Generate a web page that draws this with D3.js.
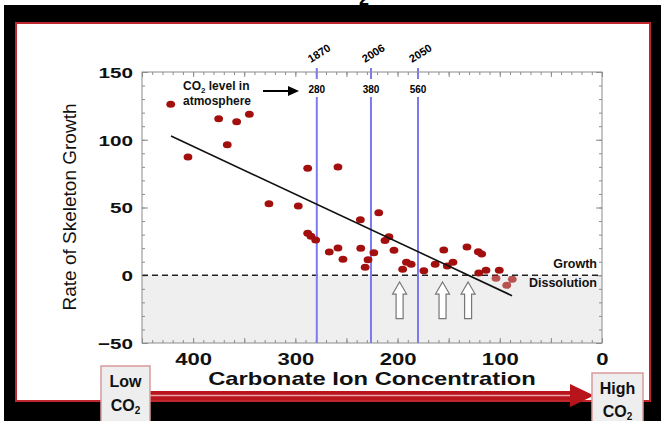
<!DOCTYPE html>
<html>
<head>
<meta charset="utf-8">
<script src="https://cdn.jsdelivr.net/npm/d3@7"></script>
<style>
  body { margin: 0; background: #fff; }
  svg { display: block; }
  text { font-family: "Liberation Sans", Arial, sans-serif; }
</style>
</head>
<body>
<div id="chart"></div>
<script>
// values
var carbonate = [421.9, 405.0, 375.0, 357.4, 345.0, 366.6, 325.8, 297.1, 287.9, 258.3,
                 287.9, 284.7, 280.1, 266.8, 258.3, 253.4, 236.4, 218.4, 236.0, 228.9,
                 231.7, 223.2, 212.3, 208.4, 203.5, 191.3, 186.7, 195.0, 174.3, 163.2,
                 154.8, 151.4, 145.8, 132.1, 121.0, 117.7, 120.6, 113.5, 100.5, 103.7,
                 93.2, 87.8];
var growth = [126.2, 87.3, 115.5, 113.3, 118.8, 96.3, 52.8, 51.1, 78.9, 79.9,
              31.0, 28.7, 26.0, 17.2, 20.1, 11.8, 40.9, 46.2, 19.9, 11.4,
              5.9, 16.6, 25.6, 28.5, 18.4, 9.6, 8.1, 4.4, 3.4, 8.2,
              18.6, 6.8, 9.6, 20.8, 17.4, 15.7, 1.7, 3.7, 3.7, -2.3,
              -7.4, -3.0];
var trendX = [421.6, 88.0];
var trendY = [102.8, -15.1];
var co2Carbonate = [279, 226, 180];
var co2Years = ["1870", "2006", "2050"];
var co2Ppm = ["280", "380", "560"];
var arrowCarbonate = [198, 156, 131];
var arrowTop = -5, arrowBottom = -32;
var xTicks = [400, 300, 200, 100, 0];
var yTicks = [-50, 0, 50, 100, 150];

var W = 664, H = 421;
var pL = 142, pR = 602, pT = 72, pB = 343;
var stretch = 1.38;   // the picture's text is wide

var svg = d3.select("#chart").append("svg").attr("width", W).attr("height", H);

// bottom of the slide title, cut off at the top edge
svg.append("text").attr("x", 364).attr("y", 5).attr("text-anchor", "middle")
  .attr("font-size", 18).attr("font-weight", "bold").attr("fill", "#000").text("2");

// slide frame
svg.append("rect").attr("x", 4).attr("y", 5).attr("width", 657).attr("height", 416).attr("fill", "#000");
svg.append("rect").attr("x", 16).attr("y", 23).attr("width", 634).attr("height", 378)
  .attr("fill", "#fff").attr("stroke", "#c0272d").attr("stroke-width", 2);

var x = d3.scaleLinear().domain([450, 0]).range([pL, pR]);
var y = d3.scaleLinear().domain([-50, 150]).range([pB, pT]);

// shaded dissolution zone
svg.append("rect").attr("x", pL).attr("y", y(0))
  .attr("width", pR - pL).attr("height", pB - y(0)).attr("fill", "#efefef");

// ticks on all four sides, pointing in
function ticks(axis, tr) {
  var g = svg.append("g").attr("transform", tr).call(axis);
  g.select(".domain").remove();
  g.selectAll("line").attr("stroke", "#8c8c8c");
  return g;
}
var xMinor = d3.range(0, 451, 10), yMinor = d3.range(-50, 151, 10);
ticks(d3.axisBottom(x).tickValues(xMinor).tickSize(-3).tickFormat(""), "translate(0," + pB + ")");
ticks(d3.axisTop(x).tickValues(xMinor).tickSize(-3).tickFormat(""), "translate(0," + pT + ")");
ticks(d3.axisBottom(x).tickValues(d3.range(0, 451, 50)).tickSize(-5).tickFormat(""), "translate(0," + pB + ")");
ticks(d3.axisTop(x).tickValues(d3.range(0, 451, 50)).tickSize(-5).tickFormat(""), "translate(0," + pT + ")");
ticks(d3.axisLeft(y).tickValues(yMinor).tickSize(-3).tickFormat(""), "translate(" + pL + ",0)");
ticks(d3.axisRight(y).tickValues(yMinor).tickSize(-3).tickFormat(""), "translate(" + pR + ",0)");
ticks(d3.axisLeft(y).tickValues(yTicks).tickSize(-6).tickFormat(""), "translate(" + pL + ",0)");
ticks(d3.axisRight(y).tickValues(yTicks).tickSize(-6).tickFormat(""), "translate(" + pR + ",0)");

// tick labels
var xl = svg.append("g").attr("transform", "translate(0," + pB + ")")
  .call(d3.axisBottom(x).tickValues(xTicks).tickSize(0).tickPadding(0));
xl.select(".domain").remove();
xl.selectAll("text").attr("y", 22).attr("dy", null)
  .attr("font-size", 16).attr("font-weight", "bold").attr("fill", "#111")
  .attr("font-family", "Liberation Sans, Arial, sans-serif")
  .attr("transform", "scale(" + stretch + ",1)");

var yl = svg.append("g").attr("transform", "translate(" + (pL - 9) + ",0)")
  .call(d3.axisLeft(y).tickValues(yTicks).tickSize(0).tickPadding(0));
yl.select(".domain").remove();
yl.selectAll("text").attr("x", 0).attr("dy", "0.36em")
  .attr("font-size", 15).attr("font-weight", "bold").attr("fill", "#111")
  .attr("font-family", "Liberation Sans, Arial, sans-serif")
  .attr("transform", "scale(" + stretch + ",1)");

// axis titles
svg.append("text").attr("transform", "translate(372,385) scale(1.36,1)")
  .attr("text-anchor", "middle").attr("font-size", 17.5).attr("font-weight", "bold")
  .attr("fill", "#111").text("Carbonate Ion Concentration");
svg.append("text").attr("transform", "translate(76,207) rotate(-90)")
  .attr("text-anchor", "middle").attr("font-size", 19).attr("fill", "#111")
  .text("Rate of Skeleton Growth");

// zero line
svg.append("line").attr("x1", pL).attr("x2", pR).attr("y1", y(0)).attr("y2", y(0))
  .attr("stroke", "#222").attr("stroke-width", 1.5).attr("stroke-dasharray", "6,4");

// CO2 level lines
var co2 = svg.selectAll(".co2").data(co2Carbonate).enter().append("g").attr("class", "co2");
co2.append("line").attr("x1", function(d) { return x(d); }).attr("x2", function(d) { return x(d); })
  .attr("y1", pT - 4).attr("y2", pB).attr("stroke", "#7b7bf0").attr("stroke-width", 2);
co2.append("rect").attr("x", function(d) { return x(d) - 11; }).attr("y", pT + 7)
  .attr("width", 22).attr("height", 18).attr("fill", "#fff");
co2.append("text").attr("x", function(d) { return x(d); }).attr("y", pT + 21)
  .attr("text-anchor", "middle").attr("font-size", 10).attr("font-weight", "bold")
  .text(function(d, i) { return co2Ppm[i]; });
co2.append("text")
  .attr("transform", function(d) { return "translate(" + (x(d) - 6) + "," + (pT - 9) + ") rotate(-32)"; })
  .attr("font-size", 11).attr("font-weight", "bold")
  .text(function(d, i) { return co2Years[i]; });

// annotation
var note = svg.append("text").attr("font-size", 12).attr("font-weight", "bold").attr("fill", "#111");
var l1 = note.append("tspan").attr("x", 183).attr("y", 90);
l1.append("tspan").text("CO");
l1.append("tspan").attr("font-size", 8).attr("dy", 2.5).text("2");
l1.append("tspan").attr("dy", -2.5).text(" level in");
note.append("tspan").attr("x", 183).attr("y", 105).text("atmosphere");
svg.append("line").attr("x1", 263).attr("x2", 290).attr("y1", 91).attr("y2", 91)
  .attr("stroke", "#000").attr("stroke-width", 2);
svg.append("path").attr("d", "M288,86L299,91L288,96Z").attr("fill", "#000");

// growth / dissolution labels
svg.append("text").attr("x", 597).attr("y", 268).attr("text-anchor", "end")
  .attr("font-size", 12.5).attr("font-weight", "bold").attr("fill", "#111").text("Growth");
svg.append("text").attr("x", 597).attr("y", 286.5).attr("text-anchor", "end")
  .attr("font-size", 12.5).attr("font-weight", "bold").attr("fill", "#111").text("Dissolution");

// hollow arrows
svg.selectAll(".up").data(arrowCarbonate).enter().append("path").attr("class", "up")
  .attr("d", function(d) {
    var cx = x(d), t = y(arrowTop), b = y(arrowBottom), h = t + 12;
    return "M" + cx + "," + t + "L" + (cx + 7) + "," + h + "L" + (cx + 3.5) + "," + h +
      "L" + (cx + 3.5) + "," + b + "L" + (cx - 3.5) + "," + b + "L" + (cx - 3.5) + "," + h +
      "L" + (cx - 7) + "," + h + "Z";
  })
  .attr("fill", "#fff").attr("stroke", "#777").attr("stroke-width", 1.2);

// points
svg.selectAll(".dot").data(carbonate).enter().append("ellipse").attr("class", "dot")
  .attr("cx", function(d) { return x(d); })
  .attr("cy", function(d, i) { return y(growth[i]); })
  .attr("rx", 4.4).attr("ry", 3.5)
  .attr("fill", "#a30f0d")
  .attr("opacity", function(d, i) { return growth[i] < 0 ? 0.7 : 1; });

// trend line
svg.append("line").attr("x1", x(trendX[0])).attr("y1", y(trendY[0]))
  .attr("x2", x(trendX[1])).attr("y2", y(trendY[1]))
  .attr("stroke", "#111").attr("stroke-width", 1.6);

// plot border
svg.append("rect").attr("x", pL).attr("y", pT).attr("width", pR - pL).attr("height", pB - pT)
  .attr("fill", "none").attr("stroke", "#8c8c8c").attr("stroke-width", 1);

// Low -> High CO2 arrow
svg.append("rect").attr("x", 150).attr("y", 391).attr("width", 425).attr("height", 9).attr("fill", "#b8141c");
svg.append("line").attr("x1", 150).attr("x2", 572).attr("y1", 395.5).attr("y2", 395.5)
  .attr("stroke", "#e9a5a8").attr("stroke-width", 1.5);
svg.append("path").attr("d", "M570,384L594,395.5L570,407Z").attr("fill", "#b8141c");

function co2Box(bx, by, bw, word, y1, y2) {
  svg.append("rect").attr("x", bx).attr("y", by).attr("width", bw).attr("height", H - by + 2)
    .attr("fill", "#eeeeee").attr("stroke", "#d99a9c").attr("stroke-width", 1.5);
  var f = "'Liberation Sans Narrow', 'Liberation Sans', Arial, sans-serif";
  svg.append("text").attr("x", bx + bw / 2).attr("y", y1).attr("text-anchor", "middle")
    .attr("font-family", f).attr("font-size", 16).attr("font-weight", "bold").attr("fill", "#111").text(word);
  var t = svg.append("text").attr("x", bx + bw / 2).attr("y", y2).attr("text-anchor", "middle")
    .attr("font-family", f).attr("font-size", 16).attr("font-weight", "bold").attr("fill", "#111");
  t.append("tspan").text("CO");
  t.append("tspan").attr("font-size", 10).attr("dy", 3).text("2");
}
co2Box(101, 366, 49, "Low", 387, 411);
co2Box(592, 373, 51, "High", 394, 417);
</script>
</body>
</html>
